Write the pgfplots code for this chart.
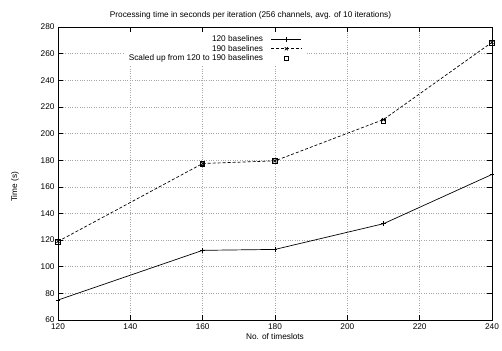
\documentclass[border=0pt]{standalone}
\usepackage{fontspec}
\setmainfont{Liberation Sans}
\usepackage{pgfplots}
\pgfplotsset{compat=1.18}
\begin{document}
\begin{tikzpicture}
\useasboundingbox (-58bp,-31bp) rectangle (444bp,320bp);
\begin{axis}[
  at={(0,0)}, anchor=south west,
  scale only axis, width=434bp, height=293bp,
  xmin=120, xmax=240, ymin=60, ymax=280,
  xtick={120,140,...,240}, ytick={60,80,...,280},
  font=\fontsize{8.3}{10}\selectfont,
  /pgf/number format/assume math mode=true,
  tick align=inside, major tick length=5bp,
  tick style={black, line width=0.6pt},
  axis line style={line width=0.8pt},
  grid=major,
  grid style={gray!70, dotted, line width=0.6pt},
  title={Processing time in seconds per iteration (256 channels, avg. of 10 iterations)},
  title style={xshift=-24.5bp, yshift=-2bp},
  xlabel={No. of timeslots},
  ylabel={Time (s)},
  ylabel style={at={(axis description cs:-0.099,0.454)}, anchor=center},
  xlabel style={yshift=3bp},
  legend style={at={(axis description cs:0.569,0.985)}, anchor=north east,
    draw=none, fill=white, row sep=-2bp, column sep=6bp, font=\fontsize{8.3}{10}\selectfont},
  legend cell align=right,
  legend plot pos=right,
  legend image code/.code={\draw[mark repeat=2,mark phase=2,#1] plot coordinates {(0bp,0bp) (15bp,0bp) (30bp,0bp)};},
]
\addplot[black, line width=0.7pt, mark=+, mark size=2.5pt, mark options={solid}] coordinates {
  (120,75) (160,112.3) (180,113) (210,132.3) (240,169.3)
};
\addlegendentry{120 baselines}
\addplot[black, line width=0.7pt, densely dashed, mark=x, mark size=2.2pt, mark options={solid}] coordinates {
  (120,119) (160,177.5) (180,179.5) (210,210.5) (240,268.5)
};
\addlegendentry{190 baselines}
\addplot[black, only marks, mark=square, mark size=2.2pt, line width=1.1pt] coordinates {
  (120,118.5) (160,177.3) (180,179.3) (210,209.2) (240,268)
};
\addlegendentry{Scaled up from 120 to 190 baselines}
\end{axis}
\end{tikzpicture}
\end{document}
